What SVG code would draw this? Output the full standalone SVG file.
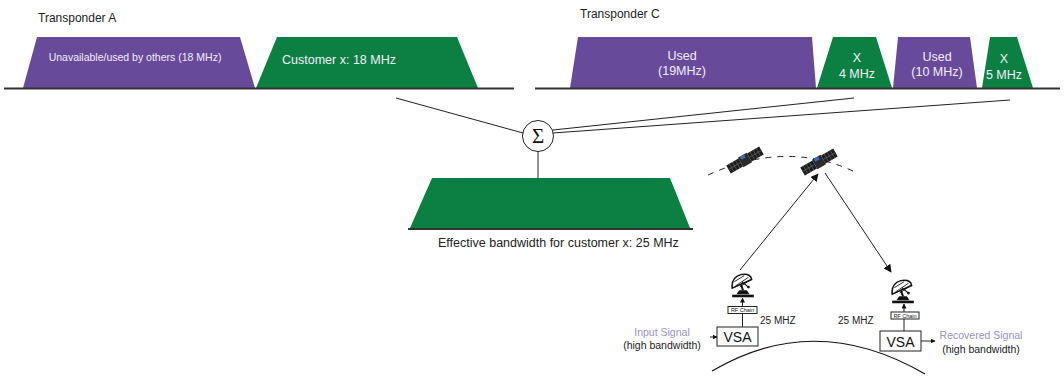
<svg xmlns="http://www.w3.org/2000/svg" width="1064" height="376" viewBox="0 0 1064 376">
  <style>
    .lbl { font-family: "Liberation Sans", Arial, sans-serif; fill: #222; }
    .in { font-family: "Liberation Sans", Arial, sans-serif; fill: #f2eefa; text-anchor: middle; }
    .used { fill: #684a9b; }
    .cust { fill: #0b8042; }
    .base { stroke: #333; stroke-width: 2; fill: none; }
    .wire { stroke: #222; stroke-width: 1; fill: none; }
    .sig { font-family: "Liberation Sans", Arial, sans-serif; fill: #9b8fc8; text-anchor: middle; }
    .box { fill: #fff; stroke: #222; stroke-width: 1; }
  </style>
  <defs>
    <marker id="ah" viewBox="0 0 10 10" refX="9" refY="5" markerWidth="8" markerHeight="8" markerUnits="userSpaceOnUse" orient="auto">
      <path d="M0,0 L10,5 L0,10 Z" fill="#111"/>
    </marker>
    <marker id="ahs" viewBox="0 0 10 10" refX="9" refY="5" markerWidth="5" markerHeight="5" markerUnits="userSpaceOnUse" orient="auto">
      <path d="M0,0 L10,5 L0,10 Z" fill="#111"/>
    </marker>
    <!-- ground station dish -->
    <symbol id="dish" viewBox="0 0 24 24">
      <path d="M2,14 Q1,4 10,1.5 Q19,0 20,6 Z" fill="#fff" stroke="#111" stroke-width="1.4"/>
      <path d="M5,12 L17,4 M4,8 L13,2.5 M9,13 L19,6" stroke="#111" stroke-width="0.8"/>
      <line x1="11" y1="8" x2="17" y2="13" stroke="#111" stroke-width="1.1"/>
      <circle cx="17" cy="13" r="1.3" fill="#111"/>
      <path d="M10,10 L12,16" stroke="#111" stroke-width="1.8"/>
      <path d="M6,19.5 L18,19.5 L15.5,16 L8.5,16 Z" fill="#111"/>
      <rect x="2" y="20" width="20" height="2.4" fill="#111"/>
    </symbol>
    <!-- satellite -->
    <symbol id="sat" viewBox="-20 -7 40 14" overflow="visible">
      <rect x="-19" y="-4.5" width="14" height="9" fill="#1c1c1c"/>
      <rect x="5" y="-4.5" width="14" height="9" fill="#1c1c1c"/>
      <path d="M-15.5,-4.5 V4.5 M-12,-4.5 V4.5 M-8.5,-4.5 V4.5 M-19,0 H-5 M8.5,-4.5 V4.5 M12,-4.5 V4.5 M15.5,-4.5 V4.5 M5,0 H19" stroke="#6a6a6a" stroke-width="0.6"/>
      <rect x="-5" y="-5.5" width="10" height="11" fill="#2b2b2b"/>
      <rect x="-3" y="-5.5" width="5" height="3.5" fill="#3d6fb0"/>
    </symbol>
  </defs>

  <!-- Transponder A -->
  <g id="transponder-a">
    <text class="lbl" x="38" y="22" font-size="12">Transponder A</text>
    <polygon class="used" points="23,88 37,37 240,37 255,88"/>
    <text class="in" x="135" y="61" font-size="10.5">Unavailable/used by others (18 MHz)</text>
    <polygon class="cust" points="256,88 277,37 457,37 478,88"/>
    <text class="in" x="339" y="64" font-size="12.5" fill="#fff">Customer x: 18 MHz</text>
    <line class="base" x1="4" y1="88.5" x2="514" y2="88.5"/>
  </g>

  <!-- Transponder C -->
  <g id="transponder-c">
    <text class="lbl" x="580" y="18" font-size="12">Transponder C</text>
    <polygon class="used" points="570,88 578,37 812,37 816,88"/>
    <text class="in" x="682" y="60" font-size="12.5">Used</text>
    <text class="in" x="682" y="75" font-size="12.5">(19MHz)</text>
    <polygon class="cust" points="817,88 833,37 876,37 892,88"/>
    <text class="in" x="857" y="62" font-size="12.5">X</text>
    <text class="in" x="857" y="78" font-size="12.5">4 MHz</text>
    <polygon class="used" points="893,88 898,37 970,37 977,88"/>
    <text class="in" x="937" y="61" font-size="12.5">Used</text>
    <text class="in" x="937" y="76" font-size="12.5">(10 MHz)</text>
    <polygon class="cust" points="982,88 990,37 1017,37 1033,88"/>
    <text class="in" x="1004" y="63" font-size="12.5">X</text>
    <text class="in" x="1004" y="79" font-size="12.5">5 MHz</text>
    <line class="base" x1="535" y1="88.5" x2="1060" y2="88.5"/>
  </g>

  <!-- Summation -->
  <g id="sum">
    <circle cx="538" cy="136" r="15.5" fill="#fff" stroke="#222" stroke-width="1"/>
    <text x="538" y="143" font-family="Liberation Serif, serif" font-size="21" text-anchor="middle" fill="#111">Σ</text>
  </g>

  <!-- Effective bandwidth -->
  <g id="effective">
    <polygon class="cust" points="410,228 432,178 670,178 690,228"/>
    <line class="base" x1="408" y1="229" x2="693" y2="229"/>
    <text class="lbl" x="438" y="247" font-size="12.5">Effective bandwidth for customer x: 25 MHz</text>
  </g>

  <!-- Orbit and satellites -->
  <g id="orbit">
    <path d="M708,175 Q785,140 853,171" fill="none" stroke="#222" stroke-width="1" stroke-dasharray="6,6"/>
    <use href="#sat" x="725" y="153" width="40" height="14" transform="rotate(-30 745 160)"/>
    <use href="#sat" x="799" y="155" width="40" height="14" transform="rotate(-30 819 162)"/>
  </g>

  <!-- Transmit station -->
  <g id="tx-station">
    <use href="#dish" x="730" y="273" width="26" height="26"/>
    <rect class="box" x="728" y="306.5" width="29" height="7"/>
    <text x="742.5" y="312" font-family="Liberation Sans, Arial, sans-serif" font-size="5.5" text-anchor="middle" fill="#222">RF Chain</text>
    <rect class="box" x="717" y="327" width="41" height="19"/>
    <text x="737.5" y="342" font-family="Liberation Sans, Arial, sans-serif" font-size="14" text-anchor="middle" fill="#111">VSA</text>
    <text class="lbl" x="760" y="324" font-size="10">25 MHZ</text>
    <text class="sig" x="662" y="336" font-size="10.5">Input Signal</text>
    <text class="lbl" x="662" y="349" font-size="10.5" text-anchor="middle">(high bandwidth)</text>
  </g>

  <!-- Receive station -->
  <g id="rx-station">
    <use href="#dish" x="890" y="279" width="26" height="26"/>
    <rect class="box" x="891" y="312" width="28" height="7"/>
    <text x="905" y="317.5" font-family="Liberation Sans, Arial, sans-serif" font-size="5.5" text-anchor="middle" fill="#222">RF Chain</text>
    <rect class="box" x="880" y="331" width="41" height="20"/>
    <text x="900.5" y="347" font-family="Liberation Sans, Arial, sans-serif" font-size="14" text-anchor="middle" fill="#111">VSA</text>
    <text class="lbl" x="838" y="324" font-size="10">25 MHZ</text>
    <text class="sig" x="981" y="339" font-size="10.5">Recovered Signal</text>
    <text class="lbl" x="981" y="353" font-size="10.5" text-anchor="middle">(high bandwidth)</text>
  </g>

  <!-- Earth surface -->
  <g id="earth">
    <path d="M712,371 Q815,310 925,374" fill="none" stroke="#111" stroke-width="1.2"/>
  </g>

  <!-- Connectors -->
  <g id="connectors">
    <line class="wire" x1="396" y1="98" x2="523" y2="133"/>
    <line class="wire" x1="553" y1="130" x2="854" y2="98"/>
    <line class="wire" x1="553" y1="133" x2="1010" y2="100"/>
    <line class="wire" x1="538" y1="151.5" x2="538" y2="178" stroke="#555"/>
    <line class="wire" x1="740" y1="270" x2="818" y2="174" marker-end="url(#ah)"/>
    <line class="wire" x1="825" y1="173" x2="891" y2="272" marker-end="url(#ah)"/>
    <line class="wire" x1="742.5" y1="306.5" x2="742.5" y2="298" marker-end="url(#ahs)"/>
    <line class="wire" x1="742.5" y1="313.5" x2="742.5" y2="327"/>
    <line class="wire" x1="710" y1="337" x2="717" y2="337" marker-end="url(#ahs)"/>
    <line class="wire" x1="904" y1="312" x2="904" y2="304" marker-end="url(#ahs)"/>
    <line class="wire" x1="904" y1="319" x2="904" y2="331"/>
    <line class="wire" x1="921" y1="341" x2="935" y2="341" marker-end="url(#ahs)"/>
  </g>
</svg>
